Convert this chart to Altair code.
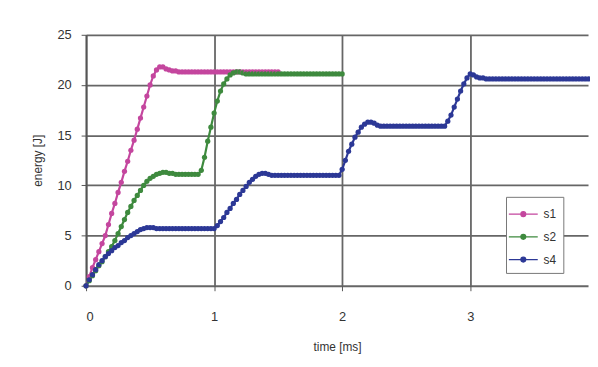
import altair as alt
import pandas as pd

# sampling times [ms] (one sample every 0.025 ms)
t_grid = [
    0.0, 0.025, 0.05, 0.075, 0.1, 0.125, 0.15, 0.175,
    0.2, 0.225, 0.25, 0.275, 0.3, 0.325, 0.35, 0.375,
    0.4, 0.425, 0.45, 0.475, 0.5, 0.525, 0.55, 0.575,
    0.6, 0.625, 0.65, 0.675, 0.7, 0.725, 0.75, 0.775,
    0.8, 0.825, 0.85, 0.875, 0.9, 0.925, 0.95, 0.975,
    1.0, 1.025, 1.05, 1.075, 1.1, 1.125, 1.15, 1.175,
    1.2, 1.225, 1.25, 1.275, 1.3, 1.325, 1.35, 1.375,
    1.4, 1.425, 1.45, 1.475, 1.5, 1.525, 1.55, 1.575,
    1.6, 1.625, 1.65, 1.675, 1.7, 1.725, 1.75, 1.775,
    1.8, 1.825, 1.85, 1.875, 1.9, 1.925, 1.95, 1.975,
    2.0, 2.025, 2.05, 2.075, 2.1, 2.125, 2.15, 2.175,
    2.2, 2.225, 2.25, 2.275, 2.3, 2.325, 2.35, 2.375,
    2.4, 2.425, 2.45, 2.475, 2.5, 2.525, 2.55, 2.575,
    2.6, 2.625, 2.65, 2.675, 2.7, 2.725, 2.75, 2.775,
    2.8, 2.825, 2.85, 2.875, 2.9, 2.925, 2.95, 2.975,
    3.0, 3.025, 3.05, 3.075, 3.1, 3.125, 3.15, 3.175,
    3.2, 3.225, 3.25, 3.275, 3.3, 3.325, 3.35, 3.375,
    3.4, 3.425, 3.45, 3.475, 3.5, 3.525, 3.55, 3.575,
    3.6, 3.625, 3.65, 3.675, 3.7, 3.725, 3.75, 3.775,
    3.8, 3.825, 3.85, 3.875, 3.9, 3.925, 3.95, 3.975,
    4.0,
]

# energy [J] of each series, from t = 0 onwards
e_s1 = [
    0.0, 0.9, 1.8, 2.6, 3.4, 4.2, 5.0, 6.1,
    7.2, 8.2, 9.3, 10.3, 11.4, 12.4, 13.5, 14.5,
    15.6, 16.7, 17.8, 18.9, 20.0, 20.9, 21.5, 21.8,
    21.8, 21.6, 21.5, 21.4, 21.4, 21.3, 21.3, 21.3,
    21.3, 21.3, 21.3, 21.3, 21.3, 21.3, 21.3, 21.3,
    21.3, 21.3, 21.3, 21.3, 21.3, 21.3, 21.3, 21.3,
    21.3, 21.3, 21.3, 21.3, 21.3, 21.3, 21.3, 21.3,
    21.3, 21.3, 21.3, 21.3, 21.3,
]
e_s2 = [
    0.0, 0.5, 1.0, 1.5, 2.0, 2.4, 2.9, 3.4,
    3.9, 4.5, 5.2, 5.9, 6.6, 7.3, 7.9, 8.5,
    9.0, 9.5, 10.0, 10.4, 10.7, 10.9, 11.1, 11.2,
    11.3, 11.3, 11.2, 11.2, 11.1, 11.1, 11.1, 11.1,
    11.1, 11.1, 11.1, 11.1, 11.5, 12.8, 14.4, 15.8,
    17.2, 18.4, 19.4, 20.1, 20.6, 21.0, 21.2, 21.3,
    21.3, 21.2, 21.1, 21.1, 21.1, 21.1, 21.1, 21.1,
    21.1, 21.1, 21.1, 21.1, 21.1, 21.1, 21.1, 21.1,
    21.1, 21.1, 21.1, 21.1, 21.1, 21.1, 21.1, 21.1,
    21.1, 21.1, 21.1, 21.1, 21.1, 21.1, 21.1, 21.1,
    21.1,
]
e_s4 = [
    0.0, 0.6, 1.1, 1.6, 2.1, 2.5, 2.9, 3.2,
    3.5, 3.8, 4.0, 4.3, 4.5, 4.8, 5.0, 5.2,
    5.4, 5.6, 5.7, 5.8, 5.8, 5.8, 5.7, 5.7,
    5.7, 5.7, 5.7, 5.7, 5.7, 5.7, 5.7, 5.7,
    5.7, 5.7, 5.7, 5.7, 5.7, 5.7, 5.7, 5.7,
    5.7, 6.0, 6.4, 6.8, 7.3, 7.7, 8.2, 8.6,
    9.1, 9.5, 9.9, 10.3, 10.6, 10.9, 11.1, 11.2,
    11.2, 11.1, 11.0, 11.0, 11.0, 11.0, 11.0, 11.0,
    11.0, 11.0, 11.0, 11.0, 11.0, 11.0, 11.0, 11.0,
    11.0, 11.0, 11.0, 11.0, 11.0, 11.0, 11.0, 11.0,
    11.6, 12.5, 13.4, 14.1, 14.8, 15.3, 15.8, 16.1,
    16.3, 16.3, 16.2, 16.0, 15.9, 15.9, 15.9, 15.9,
    15.9, 15.9, 15.9, 15.9, 15.9, 15.9, 15.9, 15.9,
    15.9, 15.9, 15.9, 15.9, 15.9, 15.9, 15.9, 15.9,
    15.9, 16.4, 17.0, 17.8, 18.6, 19.4, 20.1, 20.7,
    21.1, 21.0, 20.8, 20.7, 20.7, 20.6, 20.6, 20.6,
    20.6, 20.6, 20.6, 20.6, 20.6, 20.6, 20.6, 20.6,
    20.6, 20.6, 20.6, 20.6, 20.6, 20.6, 20.6, 20.6,
    20.6, 20.6, 20.6, 20.6, 20.6, 20.6, 20.6, 20.6,
    20.6, 20.6, 20.6, 20.6, 20.6, 20.6, 20.6, 20.6,
    20.6,
]

series_names = ["s1", "s2", "s4"]
series_colors = ["#c4469e", "#3e8a3e", "#2c3896"]
x_ticks = [0, 1, 2, 3, 4]
y_ticks = [0, 5, 10, 15, 20, 25]

rows = []
for name, es in zip(series_names, [e_s1, e_s2, e_s4]):
    for t, e in zip(t_grid, es):
        rows.append({"series": name, "time": t, "energy": e})
df = pd.DataFrame(rows)

legend_symbol = ("M-1.5,0L-0.25,0A0.25,0.25,0,1,1,0.25,0"
                 "A0.25,0.25,0,1,1,-0.25,0M0.25,0L1.5,0")

chart = alt.Chart(df).mark_line(
    strokeWidth=2.2,
    point=alt.OverlayMarkDef(filled=True, size=28, opacity=1),
).encode(
    x=alt.X("time:Q", scale=alt.Scale(domain=[0, 3.92], nice=False, zero=False),
            axis=alt.Axis(values=x_ticks, title="time [ms]", format="d")),
    y=alt.Y("energy:Q", scale=alt.Scale(domain=[0, 25], nice=False),
            axis=alt.Axis(values=y_ticks, title="energy [J]", format="d")),
    color=alt.Color("series:N",
                    scale=alt.Scale(domain=series_names, range=series_colors),
                    legend=alt.Legend(title=None, orient="none", legendX=425, legendY=164,
                                      symbolType=legend_symbol, symbolSize=380,
                                      symbolStrokeWidth=1.3,
                                      labelFontSize=12, rowPadding=6, labelOffset=10,
                                      padding=7, fillColor="white",
                                      strokeColor="#777")),
    detail="series:N",
    order="time:Q",
).properties(
    width=508,
    height=254,
    autosize=alt.AutoSizeParams(type="none"),
    padding={"left": 79, "top": 25, "right": 2, "bottom": 72},
).configure_view(
    stroke=None,
).configure_axis(
    grid=True,
    gridColor="#666",
    gridWidth=1.8,
    domainColor="#555",
    domainWidth=1.8,
    tickColor="#555",
    tickSize=5,
    labelFont="Liberation Sans",
    titleFont="Liberation Sans",
    labelFontSize=13,
    titleFontSize=12,
    labelColor="#333",
    titleColor="#333",
    titleFontWeight="normal",
).configure_axisX(
    labelPadding=20,
    titlePadding=19,
    domain=False,
).configure_axisY(
    labelPadding=10,
    titlePadding=13,
).configure_legend(
    labelFont="Liberation Sans",
    labelColor="#333",
)

chart.save("out.html", embed_options={"renderer": "svg", "actions": False})
